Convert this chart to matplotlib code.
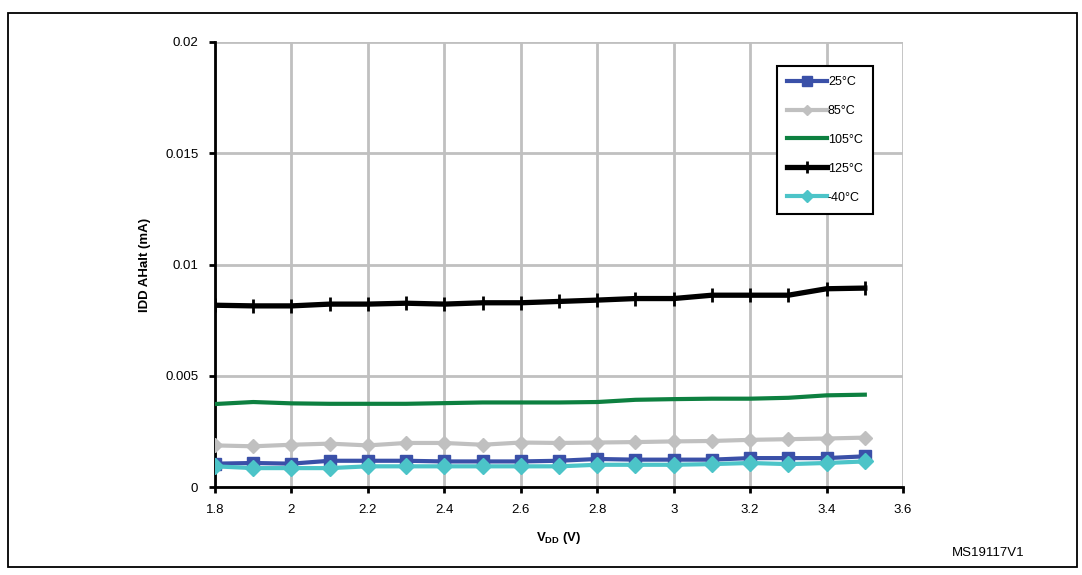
import numpy as np
import matplotlib.pyplot as plt
from matplotlib.patches import Rectangle

plt.rcParams['font.family'] = ['Liberation Sans', 'DejaVu Sans']
plt.rcParams['mathtext.fontset'] = 'custom'
plt.rcParams['mathtext.rm'] = 'Liberation Sans'
plt.rcParams['mathtext.bf'] = 'Liberation Sans:bold'

vdd = [1.8, 1.9, 2.0, 2.1, 2.2, 2.3, 2.4, 2.5, 2.6, 2.7, 2.8, 2.9, 3.0, 3.1, 3.2, 3.3, 3.4, 3.5]

idd_25 = [0.00105, 0.00108, 0.00105, 0.00118, 0.00118, 0.00118, 0.00115, 0.00115, 0.00115,
          0.00118, 0.00126, 0.00123, 0.00123, 0.00123, 0.00130, 0.00130, 0.00130, 0.00138]
idd_85 = [0.00187, 0.00183, 0.00190, 0.00195, 0.00187, 0.00198, 0.00198, 0.00190, 0.00200,
          0.00198, 0.00200, 0.00202, 0.00205, 0.00207, 0.00212, 0.00215, 0.00218, 0.00222]
idd_105 = [0.00373, 0.00382, 0.00376, 0.00374, 0.00374, 0.00374, 0.00377, 0.00380, 0.00380,
           0.00380, 0.00382, 0.00392, 0.00395, 0.00397, 0.00397, 0.00401, 0.00412, 0.00415]
idd_125 = [0.00817, 0.00814, 0.00814, 0.00822, 0.00822, 0.00826, 0.00822, 0.00828, 0.00828,
           0.00834, 0.00840, 0.00847, 0.00847, 0.00862, 0.00862, 0.00862, 0.00891, 0.00894]
idd_m40 = [0.00093, 0.00085, 0.00085, 0.00085, 0.00093, 0.00093, 0.00093, 0.00093, 0.00093,
           0.00093, 0.00100, 0.00100, 0.00100, 0.00103, 0.00108, 0.00103, 0.00108, 0.00115]

fig = plt.figure(figsize=(10.82, 5.75), dpi=100)
ax = fig.add_axes([0.1987, 0.153, 0.6359, 0.774])

ax.plot(vdd, idd_25, color='#3a50a8', lw=3, marker='s', ms=8.5, label='25°C', zorder=3)
ax.plot(vdd, idd_85, color='#c0c0c0', lw=3, marker='D', ms=7, label='85°C', zorder=3)
ax.plot(vdd, idd_105, color='#0d8040', lw=3, label='105°C', zorder=3)
ax.plot(vdd, idd_125, color='black', lw=3.8, marker='|', ms=10, mew=2, label='125°C', zorder=3)
ax.plot(vdd, idd_m40, color='#4cc4c8', lw=3, marker='D', ms=8, label='-40°C', zorder=4)

ax.set_xlim(1.8, 3.6)
ax.set_ylim(0, 0.02)
ax.set_xticks(np.arange(1.8, 3.61, 0.2))
ax.set_xticklabels(['1.8', '2', '2.2', '2.4', '2.6', '2.8', '3', '3.2', '3.4', '3.6'])
ax.set_yticks([0, 0.005, 0.01, 0.015, 0.02])
ax.set_yticklabels(['0', '0.005', '0.01', '0.015', '0.02'])
ax.grid(True, color='#c0c0c0', lw=2)
ax.set_axisbelow(True)
for s in ['top', 'right']:
    ax.spines[s].set_visible(False)
for s in ['left', 'bottom']:
    ax.spines[s].set_linewidth(2)
ax.tick_params(direction='out', length=4, width=2, labelsize=9.5, pad=8)

ax.set_xlabel(r'$\mathbf{V}_{\mathbf{DD}}$ (V)', fontsize=9.5, fontweight='bold', labelpad=10)
ax.set_ylabel('IDD AHalt (mA)', fontsize=9.5, fontweight='bold', labelpad=10)

leg = ax.legend(loc='upper right', bbox_to_anchor=(0.965, 0.96), fontsize=9,
                handlelength=3.2, handletextpad=0.1, labelspacing=1.35,
                fancybox=False, framealpha=1, borderpad=0.8, markerscale=0.8)
leg.get_frame().set_edgecolor('black')
leg.get_frame().set_linewidth(1.5)

fig.text(0.947, 0.038, 'MS19117V1', fontsize=9.5, ha='right', va='center')
fig.patches.append(Rectangle((0.0074, 0.014), 0.988, 0.963, transform=fig.transFigure,
                             fill=False, edgecolor='black', lw=1.3))

fig.savefig('out.png', dpi=100)
